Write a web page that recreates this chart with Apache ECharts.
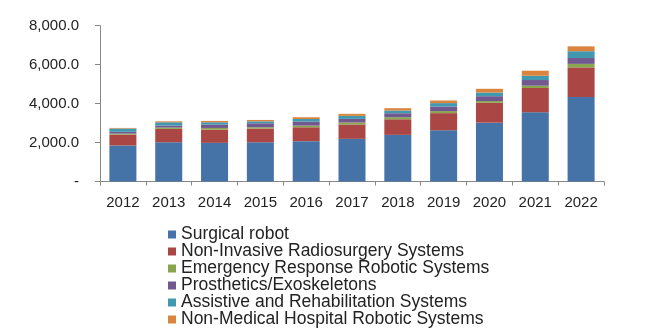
<!DOCTYPE html>
<html>
<head>
<meta charset="utf-8">
<script src="https://cdn.jsdelivr.net/npm/echarts@6/dist/echarts.min.js"></script>
<style>
html,body{margin:0;padding:0;background:#fff;}
#chart{width:657px;height:331px;}
</style>
</head>
<body>
<div id="chart"></div>
<script>
var categories = ['2012','2013','2014','2015','2016','2017','2018','2019','2020','2021','2022'];
var seriesNames = ['Surgical robot','Non-Invasive Radiosurgery Systems','Emergency Response Robotic Systems','Prosthetics/Exoskeletons','Assistive and Rehabilitation Systems','Non-Medical Hospital Robotic Systems'];
var surgical = [1850, 2015, 1985, 2015, 2070, 2190, 2395, 2630, 3020, 3555, 4340];
var radiosurgery = [560, 685, 680, 705, 715, 740, 800, 880, 1020, 1245, 1520];
var emergency = [50, 70, 85, 65, 85, 100, 105, 105, 90, 120, 180];
var prosthetics = [90, 100, 170, 205, 205, 185, 205, 235, 250, 290, 300];
var assistive = [170, 170, 120, 100, 135, 155, 140, 175, 190, 220, 350];
var nonMedical = [30, 50, 70, 70, 90, 105, 120, 135, 190, 260, 250];
var yTicks = [0, 2000, 4000, 6000, 8000];
var colors = ['#4572A7','#AA4643','#89A54E','#71588F','#4198AF','#DB843D'];

var dataSets = [surgical, radiosurgery, emergency, prosthetics, assistive, nonMedical];
var chart = echarts.init(document.getElementById('chart'));
var series = dataSets.map(function(d, i){
  return {
    name: seriesNames[i],
    type: 'bar',
    stack: 'total',
    barWidth: 27,
    data: d,
    itemStyle: {color: colors[i]}
  };
});
chart.setOption({
  animation: false,
  color: colors,
  grid: {left: 100, right: 53, top: 25.7, bottom: 149.5, containLabel: false},
  legend: {
    orient: 'vertical',
    left: 168,
    top: 225.5,
    height: 140,
    padding: 0,
    itemWidth: 8,
    itemHeight: 8,
    itemGap: -1,
    icon: 'rect',
    data: seriesNames,
    textStyle: {fontFamily: 'Liberation Sans, Arial, sans-serif', fontSize: 17.5, color: '#222', lineHeight: 17}
  },
  xAxis: {
    type: 'category',
    data: categories,
    axisLine: {lineStyle: {color: '#888', width: 1}},
    axisTick: {show: true, length: 4, lineStyle: {color: '#888'}},
    axisLabel: {margin: 14, fontFamily: 'Liberation Sans, Arial, sans-serif', fontSize: 15, color: '#222'}
  },
  yAxis: {
    type: 'value',
    min: yTicks[0],
    max: yTicks[yTicks.length - 1],
    interval: yTicks[1] - yTicks[0],
    splitLine: {show: false},
    axisLine: {show: true, lineStyle: {color: '#888', width: 1}},
    axisTick: {show: true, length: 5, lineStyle: {color: '#888'}},
    axisLabel: {
      margin: 21,
      fontFamily: 'Liberation Sans, Arial, sans-serif',
      fontSize: 15,
      color: '#222',
      formatter: function(v){
        if (v === 0) return '-';
        return v.toLocaleString('en-US', {minimumFractionDigits: 1, maximumFractionDigits: 1});
      }
    }
  },
  series: series
});
</script>
</body>
</html>
